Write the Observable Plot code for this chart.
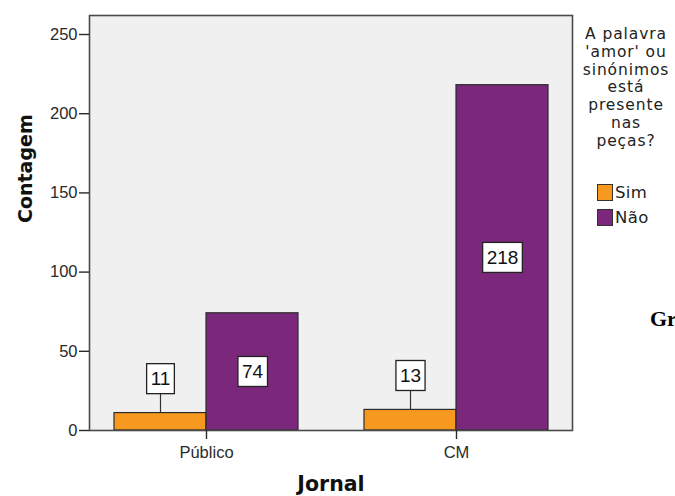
<!DOCTYPE html>
<html>
<head>
<meta charset="utf-8">
<script src="https://cdn.jsdelivr.net/npm/d3@7"></script>
<script src="https://cdn.jsdelivr.net/npm/@observablehq/plot@0.6"></script>
<style>
  html, body { margin: 0; padding: 0; background: #fff; overflow: hidden; }
  #wrap { position: relative; width: 675px; height: 496px; overflow: hidden; }
  #legend { position: absolute; left: 576px; top: 26px; width: 100px; text-align: center;
            font-family: "DejaVu Sans", sans-serif; font-size: 15.5px; letter-spacing: 0.9px; line-height: 17.8px; color: #222; }
  .item { position: absolute; font-family: "DejaVu Sans", sans-serif; font-size: 16.5px; letter-spacing: 0.4px; color: #222; line-height: 18px; }
  .sw { position: absolute; width: 14px; height: 15px; border: 1px solid #333; box-sizing: content-box; }
  #gr { position: absolute; left: 650px; top: 308px; font-family: "Liberation Serif", serif; font-weight: bold;
        font-size: 22px; line-height: 22px; white-space: nowrap; color: #000; }
</style>
</head>
<body>
<div id="wrap">
  <div id="legend"></div>
  <div id="gr">Gráfico</div>
</div>
<script>
// ---- data ----
const jornais = ["Público", "CM"];
const respostas = ["Sim", "Não"];
const contagemSim = [11, 13];
const contagemNao = [74, 218];
const yTicks = [0, 50, 100, 150, 200, 250];
const cores = ["#F7991F", "#7B287C"];
const tituloLegenda = ["A palavra", "'amor' ou", "sinónimos", "está", "presente", "nas", "peças?"];

const sim = jornais.map((j, i) => ({jornal: j, resposta: respostas[0], count: contagemSim[i]}));
const nao = jornais.map((j, i) => ({jornal: j, resposta: respostas[1], count: contagemNao[i]}));

const half = 92;        // half of each group's band (px)
const labelFont = {fontFamily: "Liberation Sans, Arial, sans-serif", fontSize: 19, fill: "#111"};

const chart = Plot.plot({
  width: 675,
  height: 496,
  marginTop: 15,
  marginBottom: 66,
  marginLeft: 89,
  marginRight: 103,
  style: {fontFamily: "Liberation Sans, Arial, sans-serif", fontSize: "16.5px", color: "#2a2a2a", background: "transparent"},
  x: {type: "band", domain: jornais, paddingInner: 0.264, paddingOuter: 0.098},
  y: {domain: [0, 262]},
  marks: [
    Plot.frame({fill: "#F0F0F0", stroke: null}),
    Plot.barY(sim, {x: "jornal", y: "count", fill: cores[0], stroke: "#2b2b2b", strokeWidth: 1.2, insetRight: half}),
    Plot.barY(nao, {x: "jornal", y: "count", fill: cores[1], stroke: "#2b2b2b", strokeWidth: 1.2, insetLeft: half}),
    Plot.frame({stroke: "#4a4a4a", strokeWidth: 1.6}),
    Plot.axisY({ticks: yTicks, tickSize: 10, tickPadding: 2, label: null, strokeWidth: 1.4}),
    Plot.axisX({tickSize: 9, tickPadding: 7, label: null, strokeWidth: 1.4}),
    Plot.ruleX(sim, {x: "jornal", y1: "count", y2: "count", dx: -46, insetBottom: 19, stroke: "#333", strokeWidth: 1.2}),
    Plot.text(sim, {x: "jornal", y: "count", text: d => String(d.count), dx: -46, dy: -34, ...labelFont}),
    Plot.text(nao, {x: "jornal", y: d => d.count / 2, text: d => String(d.count), dx: 46, ...labelFont}),
    Plot.text(["Contagem"], {frameAnchor: "left", dx: -64, rotate: -90, fontFamily: "DejaVu Sans, sans-serif", fontWeight: "bold", fontSize: 19, fill: "#111"}),
    Plot.text(["Jornal"], {frameAnchor: "bottom", dy: 60, fontFamily: "DejaVu Sans, sans-serif", fontWeight: "bold", fontSize: 20.5, fill: "#111"})
  ]
});

const wrap = document.getElementById("wrap");
wrap.prepend(chart);
chart.style.position = "absolute";
chart.style.left = "0";
chart.style.top = "0";

// boxes behind value labels
chart.querySelectorAll('g[aria-label="text"] text').forEach(t => {
  if (!/^\d+$/.test(t.textContent)) return;
  const bb = t.getBBox();
  const r = document.createElementNS("http://www.w3.org/2000/svg", "rect");
  const px = 4, py = 4.5;
  r.setAttribute("x", bb.x - px);
  r.setAttribute("y", bb.y - py);
  r.setAttribute("width", bb.width + 2 * px);
  r.setAttribute("height", bb.height + 2 * py);
  r.setAttribute("fill", "#fff");
  r.setAttribute("stroke", "#222");
  r.setAttribute("stroke-width", "1.3");
  if (t.getAttribute("transform")) r.setAttribute("transform", t.getAttribute("transform"));
  t.parentNode.insertBefore(r, t);
});

// legend
const legend = document.getElementById("legend");
legend.innerHTML = tituloLegenda.join("<br>");
respostas.forEach((r, i) => {
  const top = 184 + i * 25;
  const sw = document.createElement("div");
  sw.className = "sw";
  sw.style.left = "597px";
  sw.style.top = top + "px";
  sw.style.background = cores[i];
  wrap.appendChild(sw);
  const lab = document.createElement("div");
  lab.className = "item";
  lab.style.left = "615px";
  lab.style.top = (top) + "px";
  lab.textContent = r;
  wrap.appendChild(lab);
});
</script>
</body>
</html>
